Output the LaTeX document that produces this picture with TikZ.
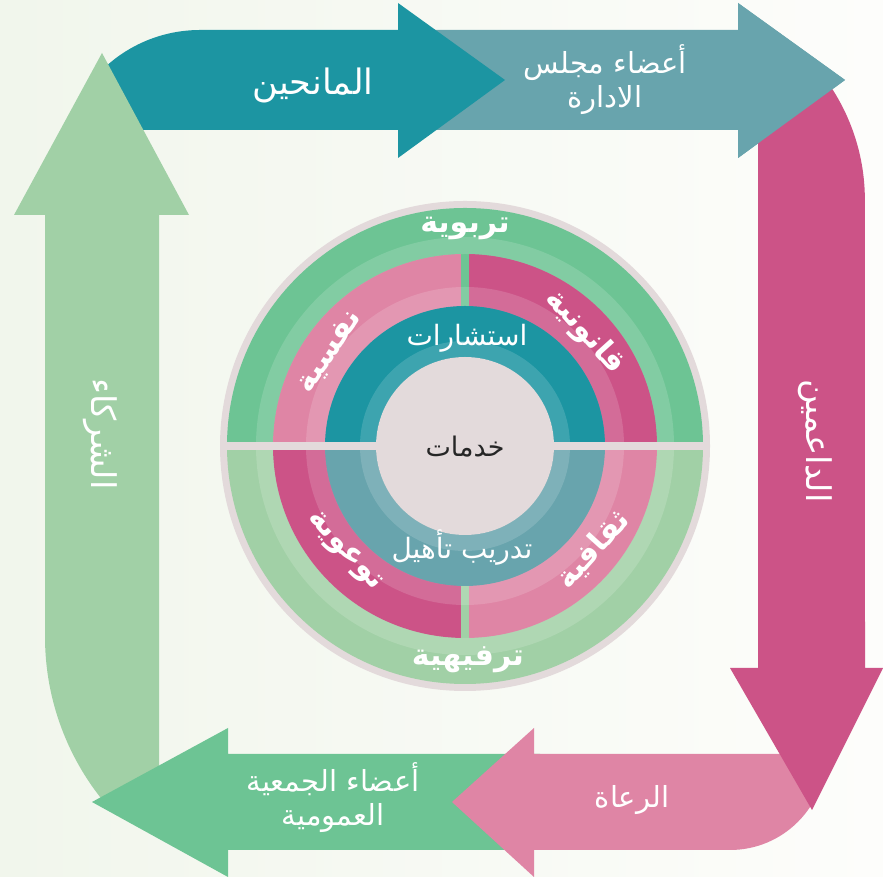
\documentclass[tikz,border=0pt]{standalone}
\usepackage{fontspec}
\usetikzlibrary{calc}
\TeXXeTstate=1
\newfontfamily\arabicfont[Script=Arabic]{DejaVu Sans}
\definecolor{manah}{RGB}{28,149,162}
\definecolor{majlis}{RGB}{104,164,173}
\definecolor{daem}{RGB}{204,83,135}
\definecolor{ruah}{RGB}{223,133,165}
\definecolor{jamia}{RGB}{109,196,148}
\definecolor{shurka}{RGB}{161,208,166}
\definecolor{disc}{RGB}{227,218,219}
\definecolor{bgleft}{RGB}{241,246,236}
\definecolor{bgright}{RGB}{253,253,251}
\tikzset{
  lbl/.style={text=white, font=\arabicfont\fontsize{29}{34}\selectfont, align=center, inner sep=0pt},
  sidelbl/.style={lbl, font=\arabicfont\fontsize{34}{38}\selectfont, rotate=-90},
  ringlbl/.style={text=white, font=\arabicfont\bfseries\fontsize{30}{34}\selectfont, inner sep=0pt},
  innerlbl/.style={text=white, font=\arabicfont\fontsize{28}{32}\selectfont, inner sep=0pt},
  band/.style={white, opacity=0.15, even odd rule},
}

\begin{document}
\begin{tikzpicture}[x=1pt,y=1pt]
    \useasboundingbox (0,0) rectangle (883,877);
    \shade[left color=bgleft, right color=bgright] (0,0) rectangle (883,877);

    % frame of arrows
    \fill[majlis] (430,747) -- (430,847) -- (738,847) -- (738,874) -- (845,797) -- (738,719) -- (738,747) -- cycle;
    \fill[manah] (398,747) -- (130,747) -- (78.8,777) arc[start angle=150,end angle=90,radius=140] -- (398,847) -- (398,874) -- (505,797) -- (398,719) -- cycle;
    \fill[shurka] (159,68) -- (110,68) arc[start angle=221.4,end angle=180,radius=260] -- (45,662) -- (14,662) -- (102,824) -- (189,662) -- (159,662) -- cycle;
    \fill[jamia] (540,123) -- (228,123) -- (228,149) -- (92,75) -- (228,0) -- (228,27) -- (540,27) -- cycle;
    \fill[ruah] (826,123) arc[start angle=0,end angle=-90,radius=96] -- (534,27) -- (534,0) -- (452,75) -- (534,149) -- (534,123) -- cycle;
    \fill[daem] (758,209) -- (758,857) arc[start angle=61.4,end angle=0,radius=205] -- (865,209) -- (883,209) -- (812,67) -- (730,209) -- cycle;
    \fill[majlis] (738,874) -- (845,797) -- (738,719) -- cycle;

    % services wheel
    \fill[disc] (465,431) circle (245);
    \fill[jamia] (465,431) -- (703,431) arc[start angle=0,end angle=180,radius=238] -- cycle;
    \fill[shurka] (465,431) -- (703,431) arc[start angle=0,end angle=-180,radius=238] -- cycle;
    \fill[ruah] (465,431) -- (273,431) arc[start angle=180,end angle=90,radius=192] -- cycle;
    \fill[daem] (465,431) -- (465,623) arc[start angle=90,end angle=0,radius=192] -- cycle;
    \fill[daem] (465,431) -- (273,431) arc[start angle=180,end angle=270,radius=192] -- cycle;
    \fill[ruah] (465,431) -- (657,431) arc[start angle=0,end angle=-90,radius=192] -- cycle;
    \fill[jamia] (461,431) rectangle (469,625);
    \fill[shurka] (461,237) rectangle (469,431);
    \fill[manah] (465,431) -- (605,431) arc[start angle=0,end angle=180,radius=140] -- cycle;
    \fill[majlis] (465,431) -- (605,431) arc[start angle=0,end angle=-180,radius=140] -- cycle;
    \fill[band] (465,431) circle (209) circle (192);
    \fill[band] (465,431) circle (159) circle (140);
    \fill[band] (465,431) circle (105) circle (89);
    \fill[disc] (465,431) circle (89);
    \fill[disc] (220,427) rectangle (710,435);

    % labels
    \node[lbl, font=\arabicfont\fontsize{35}{40}\selectfont] (manahin) at (313,792) {\beginR المانحين\endR};
    \node[lbl] (majlislbl) at (605,797) {\beginR أعضاء مجلس\endR\\\beginR الادارة\endR};
    \node[sidelbl] (daemin) at (815,436) {\beginR الداعمين\endR};
    \node[lbl] (ruat) at (632,77) {\beginR الرعاة\endR};
    \node[lbl] (jamiya) at (333,79) {\beginR أعضاء الجمعية\endR\\\beginR العمومية\endR};
    \node[sidelbl] (shuraka) at (100,443) {\beginR الشركاء\endR};

    \node[ringlbl] (tarbawia) at (465,649) {\beginR تربوية\endR};
    \node[ringlbl, rotate=56] (nafsia) at (330,525) {\beginR نفسية\endR};
    \node[ringlbl, rotate=-48] (qanunia) at (585,545) {\beginR قانونية\endR};
    \node[innerlbl] (istisharat) at (467,539) {\beginR استشارات\endR};
    \node[font=\arabicfont\fontsize{27}{30}\selectfont, text=black!85, inner sep=0pt] (khadamat) at (465,430) {\beginR خدمات\endR};
    \node[ringlbl, rotate=48] (thaqafia) at (593,327) {\beginR ثقافية\endR};
    \node[ringlbl, rotate=-47] (tawawia) at (344,325) {\beginR توعوية\endR};
    \node[innerlbl] (tadrib) at (462,329) {\beginR تدريب تأهيل\endR};
    \node[ringlbl] (tarfihia) at (468,217) {\beginR ترفيهية\endR};

\end{tikzpicture}
\end{document}
